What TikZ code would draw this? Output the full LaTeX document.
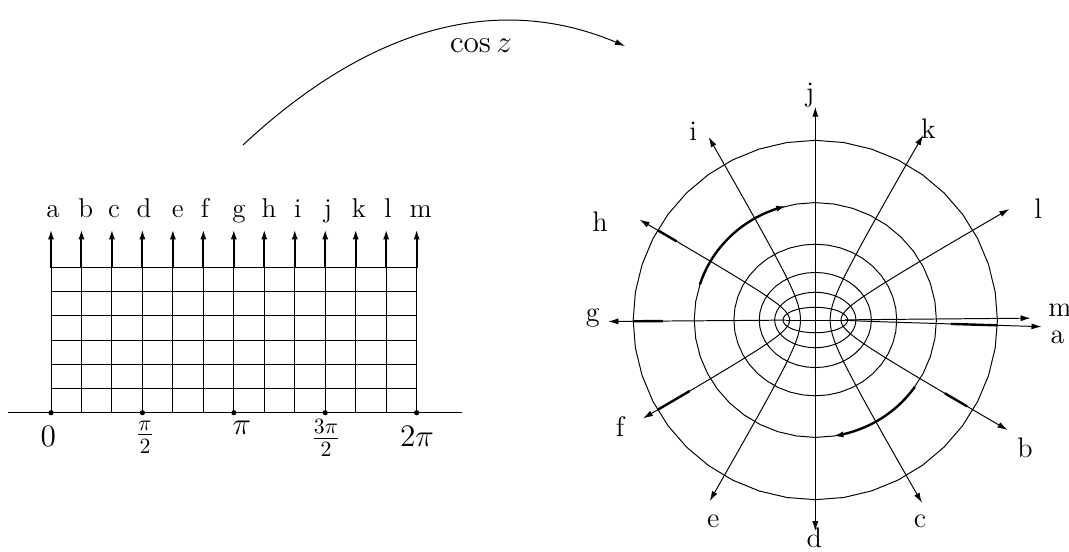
\documentclass[tikz,border=0pt]{standalone}
\usetikzlibrary{arrows.meta}
\begin{document}
\begin{tikzpicture}[x=0.46pt,y=-0.46pt,
  tip/.style={-{Latex[length=4.6pt,width=2.8pt]}},
  gridline/.style={line width=0.45pt},
  shaft/.style={line width=0.9pt,tip},
  ray/.style={line width=0.45pt,tip},
  heavy/.style={line width=1.1pt},
  lab/.style={inner sep=0pt,font=\fontsize{12.5}{15}\selectfont},
  rlab/.style={inner sep=0pt,font=\fontsize{13}{15}\selectfont},
  tlab/.style={inner sep=0pt,font=\fontsize{14.4}{17}\selectfont}]
\useasboundingbox (0,0) rectangle (1069,551);
% ---------- left: the strip ----------
\foreach \i in {0,...,12}
  \draw[gridline] ({51+30.47*\i},412.7) -- ({51+30.47*\i},267.5);
\foreach \j in {1,...,6}
  \draw[gridline] (51,{412.7-24.2*\j}) -- (416.7,{412.7-24.2*\j});
\coordinate (axl) at (8,412.7);
\coordinate (axr) at (461.7,412.7);
\draw[gridline] (axl) -- (axr);
\foreach \i/\l/\lx in {0/a/53,1/b/85.7,2/c/114,3/d/144,4/e/177.7,5/f/205,6/g/239,7/h/269,8/i/297.7,9/j/328,10/k/359,11/l/388,12/m/420.7}{
  \coordinate (s\l) at ({51+30.47*\i},267.5);
  \coordinate (t\l) at ({51+30.47*\i},229.3);
  \draw[shaft] (s\l) -- (t\l);
  \node[lab,anchor=base] (L\l) at (\lx,217) {\l};
}
\foreach \i in {0,3,6,9,12}
  \fill ({51+30.47*\i},412.7) circle[radius=1.2pt];
\node[tlab] (t0) at (48.3,436) {$0$};
\node[tlab] (t1) at (145,437) {$\frac{\pi}{2}$};
\node[tlab] (t2) at (242,428) {$\pi$};
\node[tlab] (t3) at (326,438) {$\frac{3\pi}{2}$};
\node[tlab] (t4) at (417,436) {$2\pi$};
% ---------- mapping arrow ----------
\coordinate (cs) at (243,145);
\coordinate (ce) at (625,46);
\draw[tip,line width=0.45pt] (cs) .. controls (350,45) and (480,-15) .. (ce);
\node[inner sep=0pt,font=\fontsize{13.5}{16}\selectfont] (cosz) at (481,46) {$\cos z$};
% ---------- right: the image ----------
\def\cx{815.3}\def\cy{320}\def\s{29.7}
\foreach \k in {1,...,6}
  \draw[line width=0.45pt] plot[domain=0:360,samples=41,variable=\t]
    ({\cx+\s*cos(\t)*cosh(\k*5/12)},{\cy+\s*sin(\t)*sinh(\k*5/12)}) -- cycle;
\draw[line width=0.45pt] ({\cx-\s},\cy) -- ({\cx+\s},\cy);
\foreach \th/\e in {1.7/2.72,30/2.70,60/2.66,90/2.66,120/2.65,150/2.59,179.6/2.63,210/2.61,240/2.66,270/2.67,300/2.67,330/2.71,359.5/2.67}
  \draw[ray] plot[domain=0:\e,samples=40,variable=\t]
    ({\cx+\s*cos(\th)*cosh(\t)},{\cy+\s*sin(\th)*sinh(\t)});
% heavier pieces of some rays
\foreach \th/\a/\b in {1.7/2.2/2.5,30/2.3/2.46,150/2.27/2.5,179.6/2.32/2.5,210/2.37/2.5}
  \draw[heavy] plot[domain=\a:\b,samples=8,variable=\t]
    ({\cx+\s*cos(\th)*cosh(\t)},{\cy+\s*sin(\th)*sinh(\t)});
% orientation arcs on the fifth ellipse
\draw[heavy,tip] plot[domain=197.7:256.1,samples=20,variable=\t]
    ({\cx+\s*cos(\t)*cosh(25/12)},{\cy+\s*sin(\t)*sinh(25/12)});
\draw[heavy,tip] plot[domain=34.7:81.4,samples=20,variable=\t]
    ({\cx+\s*cos(\t)*cosh(25/12)},{\cy+\s*sin(\t)*sinh(25/12)});
% labels
\node[rlab] (Rj) at (810,95) {j};
\node[rlab] (Ri) at (693.3,131.7) {i};
\node[rlab] (Rk) at (928.3,128.3) {k};
\node[rlab] (Rl) at (1038.3,208.3) {l};
\node[rlab] (Rh) at (600,221.7) {h};
\node[rlab] (Rg) at (592.7,318) {g};
\node[rlab] (Rm) at (1060,310) {m};
\node[rlab] (Ra) at (1057.5,337) {a};
\node[rlab] (Rf) at (620,426.7) {f};
\node[rlab] (Rb) at (1025,448.3) {b};
\node[rlab] (Re) at (713.3,521.7) {e};
\node[rlab] (Rc) at (920,521.7) {c};
\node[rlab] (Rd) at (814.3,538) {d};
\end{tikzpicture}
\end{document}
